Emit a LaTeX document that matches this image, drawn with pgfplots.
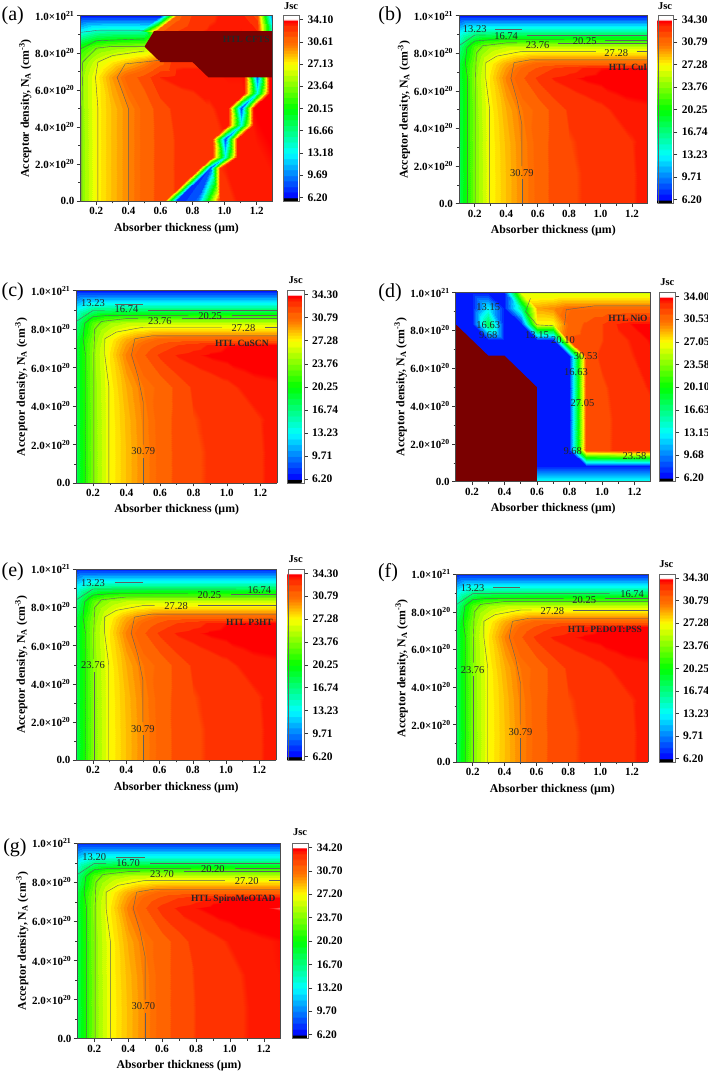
\documentclass[border=0pt]{standalone}
\usepackage{pgfplots}
\usepackage{pgfplotstable}
\usepackage{fontspec}
\setmainfont{Liberation Serif}
\pgfplotsset{compat=1.18}
\pgfplotsset{colormap={jsc}{
rgb255(0pt)=(0,0,0) rgb255(6pt)=(0,0,0)
rgb255(7pt)=(0,16,255) rgb255(16pt)=(0,16,255) rgb255(17pt)=(0,48,255) rgb255(26pt)=(0,48,255)
rgb255(27pt)=(0,80,255) rgb255(36pt)=(0,80,255) rgb255(37pt)=(0,112,255) rgb255(46pt)=(0,112,255)
rgb255(47pt)=(0,143,255) rgb255(56pt)=(0,143,255) rgb255(57pt)=(0,175,255) rgb255(66pt)=(0,175,255)
rgb255(67pt)=(0,207,255) rgb255(76pt)=(0,207,255) rgb255(77pt)=(0,239,255) rgb255(86pt)=(0,239,255)
rgb255(87pt)=(0,255,239) rgb255(96pt)=(0,255,239) rgb255(97pt)=(0,255,207) rgb255(106pt)=(0,255,207)
rgb255(107pt)=(0,255,175) rgb255(116pt)=(0,255,175) rgb255(117pt)=(0,255,143) rgb255(126pt)=(0,255,143)
rgb255(127pt)=(0,255,112) rgb255(136pt)=(0,255,112) rgb255(137pt)=(0,255,80) rgb255(146pt)=(0,255,80)
rgb255(147pt)=(0,255,48) rgb255(156pt)=(0,255,48) rgb255(157pt)=(0,255,16) rgb255(166pt)=(0,255,16)
rgb255(167pt)=(16,255,0) rgb255(176pt)=(16,255,0) rgb255(177pt)=(48,255,0) rgb255(186pt)=(48,255,0)
rgb255(187pt)=(80,255,0) rgb255(196pt)=(80,255,0) rgb255(197pt)=(112,255,0) rgb255(206pt)=(112,255,0)
rgb255(207pt)=(143,255,0) rgb255(216pt)=(143,255,0) rgb255(217pt)=(175,255,0) rgb255(226pt)=(175,255,0)
rgb255(227pt)=(207,255,0) rgb255(236pt)=(207,255,0) rgb255(237pt)=(239,255,0) rgb255(246pt)=(239,255,0)
rgb255(247pt)=(255,245,0) rgb255(251pt)=(255,245,0) rgb255(252pt)=(255,225,0) rgb255(256pt)=(255,225,0)
rgb255(257pt)=(255,205,0) rgb255(261pt)=(255,205,0) rgb255(262pt)=(255,185,0) rgb255(266pt)=(255,185,0)
rgb255(267pt)=(255,165,0) rgb255(271pt)=(255,165,0) rgb255(272pt)=(255,145,0) rgb255(276pt)=(255,145,0)
rgb255(277pt)=(255,125,0) rgb255(281pt)=(255,125,0) rgb255(282pt)=(255,110,0) rgb255(286pt)=(255,110,0)
rgb255(287pt)=(255,100,0) rgb255(296pt)=(255,100,0) rgb255(297pt)=(255,75,0) rgb255(306pt)=(255,75,0)
rgb255(307pt)=(255,50,0) rgb255(316pt)=(255,50,0) rgb255(317pt)=(255,25,0) rgb255(321pt)=(255,25,0)
rgb255(322pt)=(255,0,0) rgb255(326pt)=(255,0,0)
rgb255(327pt)=(255,255,255) rgb255(334pt)=(255,255,255)
}}
\definecolor{outrange}{RGB}{122,0,0}
\definecolor{contourc}{RGB}{95,95,95}
% Jsc grids: x (um), y (1e20 cm^-3), z
\pgfplotstableread[row sep=\\]{x y z\\
.1 0 18 \\.2 0 23.76 \\.3 0 27.28 \\.4 0 28.6 \\.5 0 29.9 \\.6 0 31.05 \\.7 0 31.9 \\.8 0 32.35 \\.9 0 32.6 \\1 0 32.85 \\1.1 0 33.05 \\1.2 0 33.3 \\1.3 0 33.7 \\
.1 1.67 18 \\.2 1.67 23.76 \\.3 1.67 27.28 \\.4 1.67 28.6 \\.5 1.67 29.9 \\.6 1.67 31.05 \\.7 1.67 31.9 \\.8 1.67 32.35 \\.9 1.67 32.6 \\1 1.67 32.85 \\1.1 1.67 33.05 \\1.2 1.67 33.3 \\1.3 1.67 33.7 \\
.1 3.33 18.1 \\.2 3.33 23.8 \\.3 3.33 27.3 \\.4 3.33 28.7 \\.5 3.33 30 \\.6 3.33 31.1 \\.7 3.33 31.9 \\.8 3.33 32.45 \\.9 3.33 32.65 \\1 3.33 32.85 \\1.1 3.33 33.05 \\1.2 3.33 33.35 \\1.3 3.33 33.6 \\
.1 5 18.2 \\.2 5 23.9 \\.3 5 27.4 \\.4 5 29 \\.5 5 30.3 \\.6 5 31 \\.7 5 31.9 \\.8 5 32.65 \\.9 5 32.95 \\1 5 33.2 \\1.1 5 33.5 \\1.2 5 33.65 \\1.3 5 33.7 \\
.1 6.67 18.3 \\.2 6.67 24.2 \\.3 6.67 27.8 \\.4 6.67 30 \\.5 6.67 31.5 \\.6 6.67 32.7 \\.7 6.67 33.45 \\.8 6.67 33.7 \\.9 6.67 33.9 \\1 6.67 34 \\1.1 6.67 34.1 \\1.2 6.67 34.15 \\1.3 6.67 34.2 \\
.1 7.2 18.3 \\.2 7.2 24 \\.3 7.2 27.5 \\.4 7.2 29.5 \\.5 7.2 30.9 \\.6 7.2 31.8 \\.7 7.2 32.5 \\.8 7.2 33 \\.9 7.2 33.5 \\1 7.2 33.8 \\1.1 7.2 33.85 \\1.2 7.2 33.9 \\1.3 7.2 33.9 \\
.1 7.5 18.2 \\.2 7.5 23.7 \\.3 7.5 27.3 \\.4 7.5 29 \\.5 7.5 30.1 \\.6 7.5 30.9 \\.7 7.5 31 \\.8 7.5 31 \\.9 7.5 31 \\1 7.5 31 \\1.1 7.5 31 \\1.2 7.5 31 \\1.3 7.5 31 \\
.1 8.33 16.5 \\.2 8.33 22.5 \\.3 8.33 24.6 \\.4 8.33 25.5 \\.5 8.33 25.7 \\.6 8.33 25.8 \\.7 8.33 25.8 \\.8 8.33 25.8 \\.9 8.33 25.8 \\1 8.33 25.8 \\1.1 8.33 25.8 \\1.2 8.33 25.8 \\1.3 8.33 25.8 \\
.1 9.17 12.5 \\.2 9.17 15.3 \\.3 9.17 15.5 \\.4 9.17 15.5 \\.5 9.17 15.5 \\.6 9.17 15.5 \\.7 9.17 15.5 \\.8 9.17 15.5 \\.9 9.17 15.5 \\1 9.17 15.5 \\1.1 9.17 15.5 \\1.2 9.17 15.5 \\1.3 9.17 15.5 \\
.1 10 7 \\.2 10 7 \\.3 10 7 \\.4 10 7 \\.5 10 7 \\.6 10 7 \\.7 10 7 \\.8 10 7 \\.9 10 7 \\1 10 7 \\1.1 10 7 \\1.2 10 7 \\1.3 10 7 \\
}\tabB
\pgfplotstableread[row sep=\\]{x y z\\
.1 0 18 \\.2 0 23.7 \\.3 0 27.2 \\.4 0 28.6 \\.5 0 29.9 \\.6 0 31.1 \\.7 0 32 \\.8 0 32.45 \\.9 0 32.75 \\1 0 33.05 \\1.1 0 33.3 \\1.2 0 33.5 \\1.3 0 33.7 \\
.1 1.67 18 \\.2 1.67 23.7 \\.3 1.67 27.2 \\.4 1.67 28.6 \\.5 1.67 29.9 \\.6 1.67 31.1 \\.7 1.67 32 \\.8 1.67 32.45 \\.9 1.67 32.75 \\1 1.67 33.05 \\1.1 1.67 33.3 \\1.2 1.67 33.5 \\1.3 1.67 33.7 \\
.1 3.33 18.1 \\.2 3.33 23.75 \\.3 3.33 27.25 \\.4 3.33 28.7 \\.5 3.33 30 \\.6 3.33 31.1 \\.7 3.33 32 \\.8 3.33 32.5 \\.9 3.33 32.85 \\1 3.33 33.1 \\1.1 3.33 33.35 \\1.2 3.33 33.55 \\1.3 3.33 33.7 \\
.1 5 18.2 \\.2 5 23.85 \\.3 5 27.3 \\.4 5 29 \\.5 5 30.3 \\.6 5 31.1 \\.7 5 32 \\.8 5 32.8 \\.9 5 33.1 \\1 5 33.35 \\1.1 5 33.55 \\1.2 5 33.65 \\1.3 5 33.72 \\
.1 6.67 18.3 \\.2 6.67 24.1 \\.3 6.67 27.7 \\.4 6.67 30 \\.5 6.67 31.5 \\.6 6.67 32.8 \\.7 6.67 33.45 \\.8 6.67 33.7 \\.9 6.67 33.9 \\1 6.67 34 \\1.1 6.67 34.05 \\1.2 6.67 34.1 \\1.3 6.67 34.15 \\
.1 7.2 18.3 \\.2 7.2 23.9 \\.3 7.2 27.4 \\.4 7.2 29.5 \\.5 7.2 30.9 \\.6 7.2 31.8 \\.7 7.2 32.5 \\.8 7.2 33 \\.9 7.2 33.5 \\1 7.2 33.75 \\1.1 7.2 33.8 \\1.2 7.2 33.85 \\1.3 7.2 33.85 \\
.1 7.5 18.2 \\.2 7.5 23.6 \\.3 7.5 27.2 \\.4 7.5 29 \\.5 7.5 30.1 \\.6 7.5 30.9 \\.7 7.5 31 \\.8 7.5 31 \\.9 7.5 31 \\1 7.5 31 \\1.1 7.5 31 \\1.2 7.5 31 \\1.3 7.5 31 \\
.1 8.33 16.5 \\.2 8.33 22.4 \\.3 8.33 24.5 \\.4 8.33 25.4 \\.5 8.33 25.7 \\.6 8.33 25.8 \\.7 8.33 25.8 \\.8 8.33 25.8 \\.9 8.33 25.8 \\1 8.33 25.8 \\1.1 8.33 25.8 \\1.2 8.33 25.8 \\1.3 8.33 25.8 \\
.1 9.17 12.5 \\.2 9.17 15.3 \\.3 9.17 15.5 \\.4 9.17 15.5 \\.5 9.17 15.5 \\.6 9.17 15.5 \\.7 9.17 15.5 \\.8 9.17 15.5 \\.9 9.17 15.5 \\1 9.17 15.5 \\1.1 9.17 15.5 \\1.2 9.17 15.5 \\1.3 9.17 15.5 \\
.1 10 7 \\.2 10 7 \\.3 10 7 \\.4 10 7 \\.5 10 7 \\.6 10 7 \\.7 10 7 \\.8 10 7 \\.9 10 7 \\1 10 7 \\1.1 10 7 \\1.2 10 7 \\1.3 10 7 \\
}\tabG
\pgfplotstableread[row sep=\\]{x y z\\
.1 0 23.4 \\.2 0 27.13 \\.3 0 28.5 \\.4 0 29.7 \\.5 0 30.9 \\.6 0 31.8 \\.7 0 32.4 \\.8 0 32.6 \\.9 0 32.9 \\1 0 33 \\1.1 0 33.3 \\1.2 0 33.45 \\1.3 0 33.55 \\
.1 1.67 23.4 \\.2 1.67 27.13 \\.3 1.67 28.5 \\.4 1.67 29.7 \\.5 1.67 30.9 \\.6 1.67 31.8 \\.7 1.67 32.4 \\.8 1.67 32.8 \\.9 1.67 33 \\1 1.67 33.2 \\1.1 1.67 33.4 \\1.2 1.67 33.5 \\1.3 1.67 33.6 \\
.1 3.33 23.5 \\.2 3.33 27.13 \\.3 3.33 28.5 \\.4 3.33 29.7 \\.5 3.33 30.9 \\.6 3.33 31.8 \\.7 3.33 32.4 \\.8 3.33 32.7 \\.9 3.33 33 \\1 3.33 33.2 \\1.1 3.33 33.45 \\1.2 3.33 33.6 \\1.3 3.33 33.7 \\
.1 5 23.6 \\.2 5 27.13 \\.3 5 28.5 \\.4 5 29.7 \\.5 5 30.9 \\.6 5 31.9 \\.7 5 32.6 \\.8 5 32.8 \\.9 5 33.1 \\1 5 33.4 \\1.1 5 33.5 \\1.2 5 33.7 \\1.3 5 33.8 \\
.1 6.67 23.8 \\.2 6.67 27.2 \\.3 6.67 29.3 \\.4 6.67 31 \\.5 6.67 31.8 \\.6 6.67 33.2 \\.7 6.67 33.4 \\.8 6.67 33.5 \\.9 6.67 33.5 \\1 6.67 33.6 \\1.1 6.67 33.6 \\1.2 6.67 33.7 \\1.3 6.67 33.8 \\
.1 7.5 23 \\.2 7.5 26 \\.3 7.5 27.5 \\.4 7.5 28.5 \\.5 7.5 29.5 \\.6 7.5 31 \\.7 7.5 33 \\.8 7.5 33 \\.9 7.5 33 \\1 7.5 33 \\1.1 7.5 33 \\1.2 7.5 33 \\1.3 7.5 33 \\
.1 8.33 20.5 \\.2 8.33 23 \\.3 8.33 23.8 \\.4 8.33 24.3 \\.5 8.33 24.6 \\.6 8.33 30 \\.7 8.33 33 \\.8 8.33 33 \\.9 8.33 33 \\1 8.33 33 \\1.1 8.33 33 \\1.2 8.33 33 \\1.3 8.33 33 \\
.1 9.17 13 \\.2 9.17 15 \\.3 9.17 15.4 \\.4 9.17 15.4 \\.5 9.17 15.5 \\.6 9.17 31 \\.7 9.17 32.3 \\.8 9.17 33 \\.9 9.17 33.3 \\1 9.17 33.5 \\1.1 9.17 33.6 \\1.2 9.17 33.2 \\1.3 9.17 13 \\
.1 10 6.9 \\.2 10 7 \\.3 10 7 \\.4 10 7 \\.5 10 7 \\.6 10 7 \\.7 10 31 \\.8 10 32.5 \\.9 10 33 \\1 10 33.4 \\1.1 10 33.5 \\1.2 10 32 \\1.3 10 8 \\
}\tabA
\pgfplotstableread[row sep=\\]{x y z\\
.1 0 7 \\.2 0 7 \\.3 0 7 \\.4 0 7 \\.5 0 7 \\.6 0 14 \\.7 0 14 \\.8 0 14 \\.9 0 14 \\1 0 14 \\1.1 0 14 \\1.2 0 14 \\1.3 0 14 \\
.1 .83 7 \\.2 .83 7 \\.3 .83 7 \\.4 .83 7 \\.5 .83 7 \\.6 .83 7 \\.7 .83 7 \\.8 .83 7 \\.9 .83 7 \\1 .83 7 \\1.1 .83 7 \\1.2 .83 7 \\1.3 .83 7 \\
.1 1.67 7 \\.2 1.67 7 \\.3 1.67 7 \\.4 1.67 7 \\.5 1.67 7 \\.6 1.67 7 \\.7 1.67 7 \\.8 1.67 7 \\.9 1.67 31.6 \\1 1.67 32 \\1.1 1.67 32.4 \\1.2 1.67 32.5 \\1.3 1.67 32.6 \\
.1 3.33 7 \\.2 3.33 7 \\.3 3.33 7 \\.4 3.33 7 \\.5 3.33 7 \\.6 3.33 7 \\.7 3.33 7 \\.8 3.33 7 \\.9 3.33 31.6 \\1 3.33 32 \\1.1 3.33 32.4 \\1.2 3.33 32.6 \\1.3 3.33 32.8 \\
.1 5 7 \\.2 5 7 \\.3 5 7 \\.4 5 7 \\.5 5 7 \\.6 5 7 \\.7 5 7 \\.8 5 7 \\.9 5 31.7 \\1 5 32.1 \\1.1 5 32.5 \\1.2 5 32.8 \\1.3 5 33.2 \\
.1 6.67 7 \\.2 6.67 7 \\.3 6.67 7 \\.4 6.67 7 \\.5 6.67 7 \\.6 6.67 7 \\.7 6.67 7 \\.8 6.67 7 \\.9 6.67 31.8 \\1 6.67 32.4 \\1.1 6.67 32.8 \\1.2 6.67 33.1 \\1.3 6.67 33.4 \\
.1 7.5 7 \\.2 7.5 7 \\.3 7.5 7 \\.4 7.5 7 \\.5 7.5 7 \\.6 7.5 7 \\.7 7.5 7 \\.8 7.5 31.5 \\.9 7.5 31.7 \\1 7.5 32.2 \\1.1 7.5 32.9 \\1.2 7.5 33.2 \\1.3 7.5 33.6 \\
.1 8.33 7 \\.2 8.33 7 \\.3 8.33 18 \\.4 8.33 7 \\.5 8.33 7 \\.6 8.33 27 \\.7 8.33 27 \\.8 8.33 30.8 \\.9 8.33 31.5 \\1 8.33 32.2 \\1.1 8.33 33.2 \\1.2 8.33 33.6 \\1.3 8.33 33.7 \\
.1 9.17 7 \\.2 9.17 7 \\.3 9.17 13 \\.4 9.17 7 \\.5 9.17 16 \\.6 9.17 29 \\.7 9.17 29.5 \\.8 9.17 30.4 \\.9 9.17 30.4 \\1 9.17 30.4 \\1.1 9.17 30.4 \\1.2 9.17 30.4 \\1.3 9.17 30.4 \\
.1 10 7 \\.2 10 7 \\.3 10 7 \\.4 10 7 \\.5 10 26 \\.6 10 26 \\.7 10 26 \\.8 10 26 \\.9 10 26 \\1 10 26 \\1.1 10 26 \\1.2 10 26 \\1.3 10 26 \\
}\tabD
% #1 left, #2 right, #3 top, #4 bottom (reference pixels), #5 gap to bar, #6 bar width, #7 meta min, #8 meta max, #9 colour bar ticks
\pgfplotsset{panel/.style n args={9}{
  scale only axis, view={0}{90}, clip=true,
  at={(#1pt,1073pt-#4pt)}, anchor=south west,
  width=#2pt-#1pt, height=#4pt-#3pt,
  xmin=0.1, xmax=1.3, ymin=0, ymax=10,
  xtick={0.2,0.4,0.6,0.8,1.0,1.2}, minor x tick num=1,
  ytick={0,2,4,6,8,10}, minor y tick num=1,
  xticklabels={0.2,0.4,0.6,0.8,1.0,1.2},
  yticklabels={0.0,2.0×10\textsuperscript{20},4.0×10\textsuperscript{20},6.0×10\textsuperscript{20},8.0×10\textsuperscript{20},1.0×10\textsuperscript{21}},
  tick align=outside, tick pos=left, axis on top,
  major tick length=3.5pt, minor tick length=2pt,
  every tick/.style={black!80,line width=.5pt},
  axis line style={black!70,line width=.5pt},
  ticklabel style={font=\fontsize{11}{11}\selectfont\bfseries},
  xticklabel style={yshift=1pt}, yticklabel style={xshift=1pt},
  xlabel={\fontsize{11.8}{12}\selectfont\bfseries Absorber thickness (µm)},
  ylabel={\fontsize{11.8}{12}\selectfont\bfseries Acceptor density, N\textsubscript{A} (cm\textsuperscript{-3})},
  xlabel style={at={(axis description cs:0.5,0)},anchor=center,yshift=-27pt},
  ylabel style={at={(axis description cs:0,0.5)},anchor=center,yshift=55pt},
  colormap name=jsc, point meta min=#7, point meta max=#8,
  colorbar,
  colorbar shift/.style={xshift=0pt},
  colorbar style={at={(parent axis.south east)},anchor=south west,xshift=#5pt,
    scale only axis, width=#6pt, height=#4pt-#3pt,
    ytick={#9}, ytick pos=right, yticklabel pos=right,
    scaled y ticks=false, tick align=outside,
    major tick length=4pt, 
    axis line style={black!60,line width=.4pt},
    every tick/.style={black!80,line width=.5pt},
    yticklabel style={font=\fontsize{11.5}{11}\selectfont\bfseries,xshift=1pt,
      /pgf/number format/.cd,fixed,fixed zerofill,precision=2,assume math mode=true}},
}}
\pgfplotsset{surfg/.style={surf,shader=interp,mesh/cols=13,forget plot},
  cont/.style={color=contourc,line width=.4pt,forget plot},
  outr/.style={draw=none,fill=outrange,forget plot}}
\tikzset{cl/.style={font=\fontsize{10.5}{11}\selectfont,inner sep=0pt,text=black!85},
  htl/.style={font=\fontsize{9.5}{10}\selectfont\bfseries,inner sep=0pt,text=black!85},
  lett/.style={font=\fontsize{20}{20}\selectfont,inner sep=0pt},
  jl/.style={font=\fontsize{10.5}{11}\selectfont\bfseries,inner sep=0pt}}
% contours of panels b, c, g (broken at their labels)
\newcommand{\contoursB}{%
 \addplot3[cont] coordinates {(.5,0,0)(.5,1.3,0)};
 \addplot3[cont] coordinates {(.5,2,0)(.5,4.2,0)(.47,5.5,0)(.43,6.67,0)(.45,7.5,0)(.55,7.65,0)(1.3,7.65,0)};
 \addplot3[cont] coordinates {(.295,0,0)(.295,5,0)(.27,6.67,0)(.27,7.5,0)(.34,7.85,0)(.5,8.1,0)(.97,8.1,0)};
 \addplot3[cont] coordinates {(1.23,8.1,0)(1.3,8.1,0)};
 \addplot3[cont] coordinates {(.205,0,0)(.205,6.67,0)(.21,8,0)(.25,8.4,0)(.4,8.55,0)(.47,8.55,0)};
 \addplot3[cont] coordinates {(.73,8.55,0)(1.3,8.55,0)};
 \addplot3[cont] coordinates {(.155,0,0)(.155,6.67,0)(.14,7.5,0)(.15,8.3,0)(.2,8.65,0)(.3,8.72,0)(.77,8.72,0)};
 \addplot3[cont] coordinates {(1.03,8.72,0)(1.3,8.72,0)};
 \addplot3[cont] coordinates {(.1,8.4,0)(.2,8.97,0)(.27,8.97,0)};
 \addplot3[cont] coordinates {(.53,8.97,0)(1.3,8.97,0)};
 \addplot3[cont] coordinates {(.33,9.3,0)(.5,9.3,0)};
}
% contours of panels e, f
\newcommand{\contoursE}{%
 \addplot3[cont] coordinates {(.5,0,0)(.5,1.3,0)};
 \addplot3[cont] coordinates {(.5,2,0)(.5,4.2,0)(.47,5.5,0)(.43,6.67,0)(.45,7.5,0)(.55,7.65,0)(1.3,7.65,0)};
 \addplot3[cont] coordinates {(.295,0,0)(.295,5,0)(.27,6.67,0)(.27,7.5,0)(.34,7.85,0)(.5,8.1,0)(.57,8.1,0)};
 \addplot3[cont] coordinates {(.83,8.1,0)(1.3,8.1,0)};
 \addplot3[cont] coordinates {(.205,0,0)(.205,4.6,0)};
 \addplot3[cont] coordinates {(.205,5.3,0)(.205,6.67,0)(.21,8,0)(.25,8.4,0)(.4,8.55,0)(1.3,8.55,0)};
 \addplot3[cont] coordinates {(.155,0,0)(.155,6.67,0)(.14,7.5,0)(.15,8.3,0)(.2,8.65,0)(.3,8.72,0)(.77,8.72,0)};
 \addplot3[cont] coordinates {(1.03,8.72,0)(1.3,8.72,0)};
 \addplot3[cont] coordinates {(.1,8.4,0)(.2,8.97,0)(1.06,8.97,0)};
 \addplot3[cont] coordinates {(.33,9.3,0)(.5,9.3,0)};
}
\begin{document}
\begin{tikzpicture}[x=1pt,y=1pt]
\useasboundingbox (0,0) rectangle (708,1073);
% (a)
\begin{axis}[panel={80.3}{272.7}{15.7}{201.3}{10.6}{15.7}{5.59}{34.71}{6.2,9.69,13.18,16.66,20.15,23.64,27.13,30.61,34.1}]
\addplot3[surfg] table {\tabA};
% the zigzag trench and the top-left edge, as triangles
\addplot3[patch,shader=interp,point meta=z,forget plot] coordinates {
(.62,0,32)(.7,0,7)(.84,1.8,33) (.84,1.8,33)(.7,0,7)(.91,1.8,8) (.7,0,7)(.83,0,9)(.91,1.8,8) (.83,0,9)(.97,0,33)(.91,1.8,8) (.97,0,33)(.97,1.8,33)(.91,1.8,8)
(.84,1.8,33)(.91,1.8,8)(.92,2.4,33) (.92,2.4,33)(.91,1.8,8)(1,2.4,14) (.91,1.8,8)(.97,1.8,33)(1,2.4,14) (1,2.4,14)(.97,1.8,33)(1.08,2.4,33.3)
(.92,2.4,33)(1,2.4,14)(.92,3.33,33) (.92,3.33,33)(1,2.4,14)(1,3.33,8) (1,2.4,14)(1.08,2.4,33.3)(1,3.33,8) (1,3.33,8)(1.08,2.4,33.3)(1.08,3.33,33.3)
(.92,3.33,33)(1,3.33,8)(1.02,4.1,33.2) (1.02,4.1,33.2)(1,3.33,8)(1.1,4.1,14) (1,3.33,8)(1.08,3.33,33.3)(1.1,4.1,14) (1.1,4.1,14)(1.08,3.33,33.3)(1.18,4.1,33.5)
(1.02,4.1,33.2)(1.1,4.1,14)(1.02,5,33.4) (1.02,5,33.4)(1.1,4.1,14)(1.1,5,8) (1.1,4.1,14)(1.18,4.1,33.5)(1.1,5,8) (1.1,5,8)(1.18,4.1,33.5)(1.18,5,33.5)
(1.02,5,33.4)(1.1,5,8)(1.12,5.85,33.4) (1.12,5.85,33.4)(1.1,5,8)(1.2,5.85,14) (1.1,5,8)(1.18,5,33.5)(1.2,5.85,14) (1.2,5.85,14)(1.18,5,33.5)(1.28,5.85,33.6)
(1.12,5.85,33.4)(1.2,5.85,14)(1.12,6.8,33.5) (1.12,6.8,33.5)(1.2,5.85,14)(1.2,6.8,8) (1.2,5.85,14)(1.28,5.85,33.6)(1.2,6.8,8) (1.2,6.8,8)(1.28,5.85,33.6)(1.28,6.8,33.6)
(.47,9.17,15)(.57,9.17,31)(.6,10,7) (.57,9.17,31)(.7,10,31)(.6,10,7) (.47,9.17,15)(.6,10,7)(.47,10,7) (.57,9.17,31)(.7,9.17,32.3)(.7,10,31)
};
\addplot3[outr] coordinates {(.5,8.33,0)(.56,9.17,0)(1.3,9.17,0)(1.3,6.67,0)(.9,6.67,0)(.8,7.5,0)(.6,7.5,0)} -- cycle;
\addplot3[cont] coordinates {(.4,0,0)(.4,5,0)(.33,6.67,0)(.38,7.4,0)(.6,7.6,0)};
\addplot3[cont] coordinates {(.21,0,0)(.21,5,0)(.195,6.67,0)(.21,7.5,0)(.3,7.85,0)(.5,8.1,0)};
\addplot3[cont] coordinates {(.11,0,0)(.11,5,0)(.115,7.5,0)(.2,8.25,0)(.3,8.35,0)(.5,8.35,0)};
\addplot3[cont] coordinates {(.1,8.2,0)(.2,8.65,0)(.5,8.75,0)};
\addplot3[cont] coordinates {(.1,9.1,0)(.2,9.2,0)(.5,9.2,0)};
\node[htl] at (axis cs:1.135,8.73,0) {HTL CFTS};
\end{axis}
\node[lett] at (12.7,1057.3) {(a)};
\node[jl] at (291,1067.3) {Jsc};
% (b)
\begin{axis}[panel={459}{647.7}{15.7}{203.7}{10}{15.6}{5.585}{34.915}{6.2,9.71,13.23,16.74,20.25,23.76,27.28,30.79,34.3}]
\addplot3[surfg] table {\tabB};
\contoursB
\node[cl] at (axis cs:.2,9.27,0) {13.23};
\node[cl] at (axis cs:.4,8.94,0) {16.74};
\node[cl] at (axis cs:.6,8.42,0) {23.76};
\node[cl] at (axis cs:.9,8.65,0) {20.25};
\node[cl] at (axis cs:1.1,8.01,0) {27.28};
\node[cl] at (axis cs:.5,1.65,0) {30.79};
\node[htl] at (axis cs:1.175,7.23,0) {HTL CuI};
\end{axis}
\node[lett] at (390,1057) {(b)};
\node[jl] at (665,1067.3) {Jsc};
% (c)
\begin{axis}[panel={76.3}{277}{290.7}{483}{10.3}{16.4}{5.585}{34.915}{6.2,9.71,13.23,16.74,20.25,23.76,27.28,30.79,34.3}]
\addplot3[surfg] table {\tabB};
\contoursB
\node[cl] at (axis cs:.2,9.37,0) {13.23};
\node[cl] at (axis cs:.4,9.04,0) {16.74};
\node[cl] at (axis cs:.6,8.44,0) {23.76};
\node[cl] at (axis cs:.9,8.7,0) {20.25};
\node[cl] at (axis cs:1.1,8.04,0) {27.28};
\node[cl] at (axis cs:.5,1.66,0) {30.79};
\node[htl] at (axis cs:1.09,7.24,0) {HTL CuSCN};
\end{axis}
\node[lett] at (12.7,781) {(c)};
\node[jl] at (295.7,793) {Jsc};
% (d)
\begin{axis}[panel={455.7}{650.7}{292.7}{481.7}{8.3}{16.3}{5.592}{34.608}{6.2,9.68,13.15,16.63,20.1,23.58,27.05,30.53,34}]
\addplot3[surfg] table {\tabD};
\addplot3[outr] coordinates {(.1,0,0)(.6,0,0)(.6,5,0)(.4,6.67,0)(.3,6.67,0)(.1,8.33,0)} -- cycle;
\addplot3[cont] coordinates {(.56,9.7,0)(.53,9,0)(.6,8.3,0)(.7,8.25,0)};
\addplot3[cont] coordinates {(.77,8.3,0)(.78,9.1,0)(.95,9.3,0)(1.3,9.3,0)};
\node[cl] at (axis cs:.3,9.22,0) {13.15};
\node[cl] at (axis cs:.3,8.27,0) {16.63};
\node[cl] at (axis cs:.3,7.74,0) {9.68};
\node[cl] at (axis cs:.6,7.74,0) {13.15};
\node[cl] at (axis cs:.76,7.5,0) {20.10};
\node[cl] at (axis cs:.9,6.63,0) {30.53};
\node[cl] at (axis cs:.84,5.82,0) {16.63};
\node[cl] at (axis cs:.88,4.14,0) {27.05};
\node[cl] at (axis cs:.82,1.64,0) {9.68};
\node[cl] at (axis cs:1.2,1.36,0) {23.58};
\node[htl] at (axis cs:1.16,8.64,0) {HTL NiO};
\end{axis}
\node[lett] at (390,780) {(d)};
\node[jl] at (667.3,790.7) {Jsc};
% (e)
\begin{axis}[panel={76.3}{276}{569.3}{760.3}{11.7}{16.3}{5.585}{34.915}{6.2,9.71,13.23,16.74,20.25,23.76,27.28,30.79,34.3}]
\addplot3[surfg] table {\tabB};
\contoursE
\node[cl] at (axis cs:.2,9.3,0) {13.23};
\node[cl] at (axis cs:.9,8.66,0) {20.25};
\node[cl] at (axis cs:1.2,8.93,0) {16.74};
\node[cl] at (axis cs:.7,8.05,0) {27.28};
\node[cl] at (axis cs:.2,4.97,0) {23.76};
\node[cl] at (axis cs:.5,1.64,0) {30.79};
\node[htl] at (axis cs:1.14,7.21,0) {HTL P3HT};
\end{axis}
\node[lett] at (12.7,501) {(e)};
\node[jl] at (295.7,514) {Jsc};
% (f)
\begin{axis}[panel={456.7}{648}{574.3}{762.3}{11}{15.7}{5.585}{34.915}{6.2,9.71,13.23,16.74,20.25,23.76,27.28,30.79,34.3}]
\addplot3[surfg] table {\tabB};
\contoursE
\node[cl] at (axis cs:.2,9.26,0) {13.23};
\node[cl] at (axis cs:1.2,8.94,0) {16.74};
\node[cl] at (axis cs:.9,8.63,0) {20.25};
\node[cl] at (axis cs:.7,8.03,0) {27.28};
\node[cl] at (axis cs:.2,4.91,0) {23.76};
\node[cl] at (axis cs:.5,1.63,0) {30.79};
\node[htl] at (axis cs:1.03,7.09,0) {HTL PEDOT:PSS};
\end{axis}
\node[lett] at (388,500) {(f)};
\node[jl] at (666.3,509) {Jsc};
% (g)
\begin{axis}[panel={77.3}{280.7}{843.3}{1038.7}{11.6}{16}{5.5875}{34.8125}{6.2,9.7,13.2,16.7,20.2,23.7,27.2,30.7,34.2}]
\addplot3[surfg] table {\tabG};
\contoursB
\node[cl] at (axis cs:.2,9.3,0) {13.20};
\node[cl] at (axis cs:.4,8.98,0) {16.70};
\node[cl] at (axis cs:.6,8.45,0) {23.70};
\node[cl] at (axis cs:.9,8.69,0) {20.20};
\node[cl] at (axis cs:1.1,8.05,0) {27.20};
\node[cl] at (axis cs:.49,1.66,0) {30.70};
\node[htl] at (axis cs:1.02,7.16,0) {HTL SpiroMeOTAD};
\end{axis}
\node[lett] at (15,225) {(g)};
\node[jl] at (300,240.7) {Jsc};
\end{tikzpicture}
\end{document}
